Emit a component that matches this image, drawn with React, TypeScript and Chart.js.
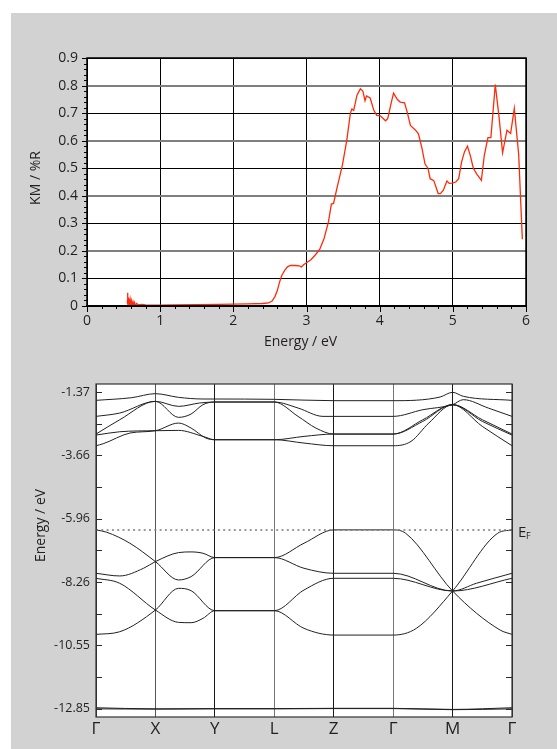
import React, { useEffect, useRef } from 'react';
import { Chart, registerables } from 'chart.js';

Chart.register(...registerables);

const FONT = '"Open Sans", "Liberation Sans", sans-serif';
const INK = '#231f20';

// ---------- Top chart: Kubelka-Munk spectrum ----------
const energyEV = [
  0.55, 0.553, 0.556, 0.56, 0.565, 0.57, 0.575, 0.58, 0.585, 0.59, 0.6, 0.61, 0.62, 0.63, 0.64, 0.65, 0.66, 0.68,
  0.7, 0.75, 0.8, 1.0, 1.2, 1.5, 1.8, 2.0, 2.2, 2.4, 2.48, 2.53, 2.57, 2.6, 2.63, 2.66, 2.7, 2.74, 2.78, 2.85,
  2.9, 2.93, 2.96, 3.0, 3.06, 3.12, 3.18, 3.24, 3.3, 3.34, 3.37, 3.42, 3.49, 3.55, 3.6, 3.62, 3.645, 3.69,
  3.736, 3.77, 3.8, 3.82, 3.87, 3.92, 3.96, 4.01, 4.08, 4.11, 4.16, 4.19, 4.24, 4.28, 4.34, 4.38, 4.42, 4.49,
  4.53, 4.58, 4.62, 4.66, 4.69, 4.74, 4.8, 4.83, 4.87, 4.92, 4.95, 4.99, 5.04, 5.08, 5.12, 5.16, 5.2, 5.24,
  5.28, 5.33, 5.39, 5.43, 5.48, 5.52, 5.58, 5.63, 5.68, 5.74, 5.79, 5.84, 5.9, 5.95,
];
const kmValues = [
  0.02, 0.048, 0.005, 0.04, 0.008, 0.03, 0.0, 0.025, 0.004, 0.022, 0.0, 0.018, 0.002, 0.014, 0.0, 0.012, 0.002, 0.009,
  0.004, 0.006, 0.004, 0.003, 0.004, 0.005, 0.006, 0.007, 0.008, 0.009, 0.011, 0.018, 0.035, 0.055, 0.085, 0.11, 0.128, 0.142, 0.147, 0.147,
  0.146, 0.142, 0.15, 0.157, 0.168, 0.185, 0.205, 0.245, 0.305, 0.37, 0.372, 0.432, 0.51, 0.6, 0.7, 0.715, 0.71, 0.765,
  0.788, 0.78, 0.745, 0.762, 0.755, 0.71, 0.692, 0.69, 0.672, 0.68, 0.74, 0.772, 0.75, 0.74, 0.737, 0.7, 0.655, 0.638,
  0.625, 0.57, 0.515, 0.5, 0.462, 0.455, 0.408, 0.408, 0.42, 0.454, 0.445, 0.446, 0.45, 0.462, 0.523, 0.56, 0.58, 0.545,
  0.5, 0.478, 0.456, 0.547, 0.611, 0.611, 0.804, 0.69, 0.556, 0.638, 0.626, 0.717, 0.55, 0.242,
];
const kmAxisMin = 0;
const kmAxisMax = 0.9;
const kmMajorStep = 0.1;
const kmMinorStep = 0.02;
const energyAxisMin = 0;
const energyAxisMax = 6;
const energyMinorStep = 0.2;

// ---------- Bottom chart: band structure ----------
const kLabels = ['Γ', 'X', 'Y', 'L', 'Z', 'Γ', 'M', 'Γ'];
const bandEnergyTicks = [-12.85, -10.55, -8.26, -5.96, -3.66, -1.37];
const bandAxisMin = -13.155;
const bandAxisMax = -1.08;
const fermiEnergy = -6.37;

const bandC1 = [[0, -1.673], [0.6, -1.576], [1, -1.431], [1.39, -1.564], [1.8, -1.624], [2, -1.624], [3, -1.636], [4, -1.685], [5, -1.685], [5.79, -1.552], [6, -1.382], [6.18, -1.527], [7, -1.673]];
const bandC2 = [[0, -2.254], [0.4, -2.133], [1, -1.709], [1.39, -1.891], [1.74, -1.77], [2, -1.733], [3, -1.733], [3.4, -1.951], [3.82, -2.254], [4, -2.254], [5, -2.254], [5.5, -2.012], [6, -1.83], [6.18, -1.648], [6.6, -1.951], [7, -2.254]];
const bandC3 = [[0, -2.895], [0.4, -2.375], [1, -1.709], [1.39, -2.29], [1.6, -2.169], [1.8, -1.83], [2, -1.733], [3, -1.733], [3.4, -2.254], [3.7, -2.678], [4, -2.895], [5, -2.895], [5.5, -2.375], [6, -1.83], [6.5, -2.375], [7, -2.895]];
const bandC4 = [[0, -2.932], [0.4, -2.811], [1, -2.774], [1.39, -2.762], [1.8, -2.98], [2, -3.101], [3, -3.101], [3.5, -2.98], [4, -2.895], [5, -2.895], [5.5, -2.435], [6, -1.83], [6.5, -2.435], [7, -2.932]];
const bandC5 = [[0, -3.319], [0.12, -3.247], [0.57, -2.859], [1, -2.774], [1.39, -2.496], [1.6, -2.678], [1.85, -3.041], [2, -3.101], [3, -3.101], [3.5, -3.222], [4, -3.319], [5, -3.319], [5.3, -3.162], [5.6, -2.496], [6, -1.83], [6.5, -2.617], [7, -3.319]];
const bandV1 = [[0, -6.37], [0.18, -6.455], [0.57, -6.854], [1, -7.52], [1.39, -8.186], [1.6, -8.065], [2, -7.375], [3, -7.375], [3.5, -6.854], [4, -6.37], [5, -6.37], [5.21, -6.491], [6, -8.586], [6.8, -10.002], [7, -10.16]];
const bandV2 = [[0, -7.944], [0.4, -8.041], [0.8, -7.762], [1, -7.52], [1.39, -7.193], [1.6, -7.169], [1.8, -7.217], [2, -7.375], [3, -7.375], [3.5, -7.762], [4, -7.944], [5, -7.944], [6, -8.586], [6.4, -8.307], [7, -7.944]];
const bandV3 = [[0, -8.125], [0.4, -8.307], [1, -9.276], [1.39, -9.724], [1.6, -9.736], [1.8, -9.578], [2, -9.3], [3, -9.3], [3.5, -9.941], [4, -10.184], [5, -10.184], [5.39, -9.941], [6, -8.586], [6.76, -6.491], [7, -6.37]];
const bandV4 = [[0, -10.16], [0.4, -10.063], [1, -9.276], [1.39, -8.489], [1.6, -8.574], [2, -9.3], [3, -9.3], [3.5, -8.549], [4, -8.125], [5, -8.125], [6, -8.586], [7, -8.125]];
const bandS1 = [[0, -12.82], [1, -12.86], [2, -12.85], [3, -12.85], [4, -12.84], [5, -12.84], [6, -12.88], [7, -12.82]];
const bandS2 = [[0, -12.86], [1, -12.87], [2, -12.86], [3, -12.86], [4, -12.85], [5, -12.85], [6, -12.89], [7, -12.86]];
const allBands = [bandC1, bandC2, bandC3, bandC4, bandC5, bandV1, bandV2, bandV3, bandV4, bandS1, bandS2];

const kLineColors = ['#333', '#555', '#1a1a1a', '#777', '#1a1a1a', '#777', '#1a1a1a', '#333'];

const topPlugin = {
  id: 'topDecor',
  afterDraw(chart: any) {
    const { ctx, chartArea, scales } = chart;
    const { left, right, top, bottom } = chartArea;
    const x = scales.x;
    const y = scales.y;
    ctx.save();
    ctx.strokeStyle = '#000';
    ctx.lineWidth = 1;
    const nY = Math.round((kmAxisMax - kmAxisMin) / kmMinorStep);
    for (let i = 0; i <= nY; i++) {
      const v = kmAxisMin + i * kmMinorStep;
      const py = Math.round(y.getPixelForValue(v)) + 0.5;
      const len = i % 5 === 0 ? 5 : 3;
      ctx.beginPath();
      ctx.moveTo(left - len, py);
      ctx.lineTo(left, py);
      ctx.stroke();
    }
    const nX = Math.round((energyAxisMax - energyAxisMin) / energyMinorStep);
    for (let i = 0; i <= nX; i++) {
      const v = energyAxisMin + i * energyMinorStep;
      const px = Math.round(x.getPixelForValue(v)) + 0.5;
      const len = i % 5 === 0 ? 6 : 3;
      ctx.beginPath();
      ctx.moveTo(px, bottom);
      ctx.lineTo(px, bottom + len);
      ctx.stroke();
    }
    // frame
    ctx.lineWidth = 1.5;
    ctx.beginPath();
    ctx.moveTo(left, bottom);
    ctx.lineTo(left, top);
    ctx.lineTo(right, top);
    ctx.lineTo(right, bottom);
    ctx.stroke();
    ctx.lineWidth = 2;
    ctx.beginPath();
    ctx.moveTo(left - 1, bottom);
    ctx.lineTo(right + 1, bottom);
    ctx.stroke();
    // titles
    ctx.fillStyle = INK;
    ctx.font = `14px ${FONT}`;
    ctx.textAlign = 'center';
    ctx.textBaseline = 'middle';
    ctx.fillText('Energy / eV', (left + right) / 2 - 6, bottom + 36);
    ctx.translate(left - 51, (top + bottom) / 2 - 4);
    ctx.rotate(-Math.PI / 2);
    ctx.fillText('KM / %R', 0, 0);
    ctx.restore();
  },
};

const bottomPlugin = {
  id: 'bottomDecor',
  afterDraw(chart: any) {
    const { ctx, chartArea, scales } = chart;
    const { left, right, top, bottom } = chartArea;
    const y = scales.y;
    ctx.save();
    ctx.strokeStyle = '#2a2a2a';
    ctx.lineWidth = 1;
    const vals: number[] = [];
    bandEnergyTicks.forEach((v, i) => {
      vals.push(v);
      if (i < bandEnergyTicks.length - 1) vals.push((v + bandEnergyTicks[i + 1]) / 2);
    });
    vals.forEach((v) => {
      const py = Math.round(y.getPixelForValue(v)) + 0.5;
      ctx.beginPath();
      ctx.moveTo(left, py);
      ctx.lineTo(left + 6, py);
      ctx.moveTo(right, py);
      ctx.lineTo(right - 6, py);
      ctx.stroke();
    });
    ctx.strokeStyle = '#333';
    ctx.lineWidth = 1.2;
    ctx.strokeRect(left, top, right - left, bottom - top);
    // title
    ctx.fillStyle = INK;
    ctx.font = `14px ${FONT}`;
    ctx.textAlign = 'center';
    ctx.textBaseline = 'middle';
    ctx.save();
    ctx.translate(left - 55, (top + bottom) / 2 - 25);
    ctx.rotate(-Math.PI / 2);
    ctx.fillText('Energy / eV', 0, 0);
    ctx.restore();
    // Fermi level label
    const pf = y.getPixelForValue(fermiEnergy);
    ctx.textAlign = 'left';
    ctx.textBaseline = 'alphabetic';
    ctx.font = `15px ${FONT}`;
    ctx.fillText('E', right + 6, pf + 7);
    ctx.font = `9px ${FONT}`;
    ctx.fillText('F', right + 14, pf + 9);
    ctx.restore();
  },
};

function TopChart() {
  const ref = useRef<HTMLCanvasElement>(null);
  useEffect(() => {
    const chart = new Chart(ref.current as HTMLCanvasElement, {
      type: 'line',
      data: {
        datasets: [
          {
            data: energyEV.map((e, i) => ({ x: e, y: kmValues[i] })),
            borderColor: '#ff2a0a',
            borderWidth: 1.3,
            pointRadius: 0,
            tension: 0,
          },
        ],
      },
      options: {
        animation: false,
        responsive: false,
        devicePixelRatio: 1,
        layout: { padding: { left: 0, top: 58, right: 31, bottom: 0 } },
        plugins: { legend: { display: false }, tooltip: { enabled: false } },
        scales: {
          x: {
            type: 'linear',
            min: energyAxisMin,
            max: energyAxisMax,
            afterFit: (s: any) => { s.height = 64; },
            ticks: { stepSize: 1, color: INK, font: { family: FONT, size: 14 }, padding: 7, maxRotation: 0 },
            grid: { color: '#000', lineWidth: 1, drawTicks: false },
            border: { display: false },
          },
          y: {
            min: kmAxisMin,
            max: kmAxisMax,
            afterFit: (s: any) => { s.width = 87; },
            ticks: {
              stepSize: kmMajorStep,
              color: INK,
              font: { family: FONT, size: 14 },
              padding: 9,
              callback: (v: any) => (Math.abs(v) < 1e-9 ? '0' : Number(v).toFixed(1)),
            },
            grid: {
              drawTicks: false,
              color: (c: any) => (Math.round(c.tick.value * 10) % 2 === 0 ? '#7f7f7f' : '#000'),
              lineWidth: (c: any) => (Math.round(c.tick.value * 10) % 2 === 0 ? 2 : 1),
            },
            border: { display: false },
          },
        },
      },
      plugins: [topPlugin],
    } as any);
    return () => chart.destroy();
  }, []);
  return <canvas ref={ref} width={557} height={370} style={{ position: 'absolute', left: 0, top: 0 }} />;
}

function BottomChart() {
  const ref = useRef<HTMLCanvasElement>(null);
  useEffect(() => {
    const datasets: any[] = allBands.map((b) => ({
      data: b.map(([k, e]) => ({ x: k, y: e })),
      borderColor: INK,
      borderWidth: 1,
      pointRadius: 0,
      cubicInterpolationMode: 'monotone',
    }));
    datasets.unshift({
      data: [{ x: 0, y: fermiEnergy }, { x: kLabels.length - 1, y: fermiEnergy }],
      borderColor: '#7a7a7a',
      borderWidth: 1.5,
      borderDash: [2, 3.3],
      pointRadius: 0,
    });
    const chart = new Chart(ref.current as HTMLCanvasElement, {
      type: 'line',
      data: { datasets },
      options: {
        animation: false,
        responsive: false,
        devicePixelRatio: 1,
        layout: { padding: { left: 0, top: 14, right: 45, bottom: 0 } },
        plugins: { legend: { display: false }, tooltip: { enabled: false } },
        scales: {
          x: {
            type: 'linear',
            min: 0,
            max: kLabels.length - 1,
            afterFit: (s: any) => { s.height = 32; },
            afterBuildTicks: (s: any) => { s.ticks = kLabels.map((_, i) => ({ value: i })); },
            ticks: {
              color: INK,
              font: { family: FONT, size: 17 },
              padding: 2,
              maxRotation: 0,
              autoSkip: false,
              callback: (v: any) => kLabels[Math.round(v)],
            },
            grid: {
              drawTicks: false,
              color: (c: any) => kLineColors[c.index] || '#333',
              lineWidth: 1,
            },
            border: { display: false },
          },
          y: {
            min: bandAxisMin,
            max: bandAxisMax,
            afterFit: (s: any) => { s.width = 96; },
            afterBuildTicks: (s: any) => { s.ticks = bandEnergyTicks.map((v) => ({ value: v })); },
            ticks: {
              color: INK,
              font: { family: FONT, size: 12.5 },
              padding: 6,
              callback: (v: any) => Number(v).toFixed(2),
            },
            grid: { drawOnChartArea: false, drawTicks: false },
            border: { display: false },
          },
        },
      },
      plugins: [bottomPlugin],
    } as any);
    return () => chart.destroy();
  }, []);
  return <canvas ref={ref} width={557} height={379} style={{ position: 'absolute', left: 0, top: 370 }} />;
}

export default function App() {
  return (
    <div style={{ position: 'fixed', left: 0, top: 0, width: 557, height: 749, background: '#fff', overflow: 'hidden' }}>
      <div style={{ position: 'absolute', left: 11, top: 13, right: 0, bottom: 0, background: '#d2d2d2' }} />
      <div style={{ position: 'absolute', left: 87, top: 58, width: 439, height: 248, background: '#fff' }} />
      <div style={{ position: 'absolute', left: 96, top: 384, width: 416, height: 333, background: '#fff' }} />
      <TopChart />
      <BottomChart />
    </div>
  );
}
